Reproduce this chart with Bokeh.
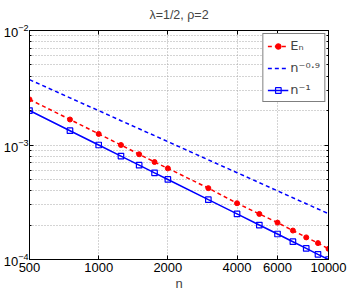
from bokeh.plotting import figure
from bokeh.models import FixedTicker, LogAxis, Legend, LegendItem, Range1d
from bokeh.embed import file_html
from bokeh.resources import INLINE

# data
n = [500, 750, 1000, 1250, 1500, 1750, 2000, 3000, 4000, 5000, 6000, 7000, 8000, 9000, 10000]
E_n = [2.5e-3, 1.67e-3, 1.25e-3, 1.0e-3, 8.3e-4, 7.1e-4, 6.25e-4, 4.2e-4,
       3.1e-4, 2.5e-4, 2.1e-4, 1.79e-4, 1.56e-4, 1.39e-4, 1.24e-4]
ref_09 = [3.72e-3, 2.58e-3, 1.995e-3, 1.63e-3, 1.385e-3, 1.206e-3, 1.069e-3, 7.42e-4,
          5.73e-4, 4.69e-4, 3.98e-4, 3.46e-4, 3.07e-4, 2.76e-4, 2.51e-4]
ref_1 = [2.0e-3, 1.333e-3, 1.0e-3, 8.0e-4, 6.67e-4, 5.71e-4, 5.0e-4, 3.33e-4,
         2.5e-4, 2.0e-4, 1.67e-4, 1.43e-4, 1.25e-4, 1.11e-4, 1.0e-4]
x_ticks = [500, 1000, 2000, 4000, 6000, 10000]
y_ticks = [1e-4, 1e-3, 1e-2]
y_minor = [k * 1e-4 for k in range(2, 10)] + [k * 1e-3 for k in range(2, 10)]
title_text = "λ=1/2, ρ=2"
legend_labels = ["Eₙ", "n⁻⁰·⁹", "n⁻¹"]

FONT = "Liberation Sans"
LEG_FONT = "DejaVu Sans"
RED = "#ff0000"
BLUE = "#0000ff"
GRID = "#a8a8a8"

W, H = 349, 293
BL, BR, BT, BB = 27, 21, 28, 33

p = figure(width=W, height=H, x_axis_type="log", y_axis_type="log",
           x_range=Range1d(500, 10000), y_range=Range1d(1e-4, 1e-2),
           output_backend="svg", toolbar_location=None,
           min_border_left=BL, min_border_right=BR, min_border_top=BT, min_border_bottom=BB)

p.title.text = title_text
p.title.align = "center"
p.title.text_font = FONT
p.title.text_font_size = "12.5px"
p.title.text_font_style = "normal"
p.title.standoff = 10

p.background_fill_color = "white"
p.outline_line_color = "black"
p.outline_line_width = 1

xt = FixedTicker(ticks=x_ticks, minor_ticks=[])
yt = FixedTicker(ticks=y_ticks, minor_ticks=y_minor)

for ax in p.xaxis:
    ax.ticker = xt
for ax in p.yaxis:
    ax.ticker = yt

for ax in list(p.xaxis) + list(p.yaxis):
    ax.major_tick_in = 4
    ax.major_tick_out = 0
    ax.minor_tick_in = 2
    ax.minor_tick_out = 0
    ax.axis_line_color = "black"
    ax.major_label_text_font = FONT
    ax.major_label_text_font_size = "13px"
    ax.major_label_text_color = "black"
    ax.axis_label_text_font = FONT
    ax.axis_label_text_font_style = "normal"
    ax.axis_label_text_font_size = "13px"

p.xaxis.axis_label = "n"
p.xaxis.axis_label_standoff = 1
p.xaxis.major_label_standoff = 3
p.yaxis.major_label_standoff = 1

# box ticks on right and top
ra = LogAxis(ticker=yt, major_tick_in=4, major_tick_out=0, minor_tick_in=2, minor_tick_out=0,
             major_label_overrides={t: " " for t in y_ticks}, major_label_text_font_size="1px",
             major_label_standoff=0, axis_line_color="black")
p.add_layout(ra, "right")
ta = LogAxis(ticker=xt, major_tick_in=4, major_tick_out=0, minor_tick_in=0, minor_tick_out=0,
             major_label_overrides={t: " " for t in x_ticks}, major_label_text_font_size="1px",
             major_label_standoff=0, axis_line_color="black")
p.add_layout(ta, "above")

p.xgrid.ticker = xt
p.ygrid.ticker = yt
p.xgrid.grid_line_color = GRID
p.xgrid.grid_line_dash = "1 2"
p.ygrid.grid_line_color = GRID
p.ygrid.grid_line_dash = "1 2"
p.ygrid.minor_grid_line_color = GRID
p.ygrid.minor_grid_line_dash = "1 2"

l1 = p.line(n, E_n, line_color=RED, line_width=1.5, line_dash="4 3")
m1 = p.scatter(n, E_n, marker="circle", size=5, fill_color=RED, line_color=RED)
l2 = p.line(n, ref_09, line_color=BLUE, line_width=1.5, line_dash="4 3")
l3 = p.line(n, ref_1, line_color=BLUE, line_width=1.5)
m3 = p.scatter(n, ref_1, marker="square", size=5.5, fill_color=None, line_color=BLUE, line_width=1.2)

legend = Legend(items=[LegendItem(label=legend_labels[0], renderers=[l1, m1]),
                       LegendItem(label=legend_labels[1], renderers=[l2]),
                       LegendItem(label=legend_labels[2], renderers=[l3, m3])],
                location="top_right")
legend.label_text_font = LEG_FONT
legend.label_text_font_size = "13px"
legend.border_line_color = "black"
legend.border_line_width = 1
legend.background_fill_color = "white"
legend.background_fill_alpha = 1
legend.margin = 3
legend.padding = 4
legend.spacing = 7
legend.glyph_width = 21
legend.glyph_height = 14
legend.label_height = 14
legend.label_standoff = 2
p.add_layout(legend)

open("out.html", "w").write(file_html(p, INLINE))
